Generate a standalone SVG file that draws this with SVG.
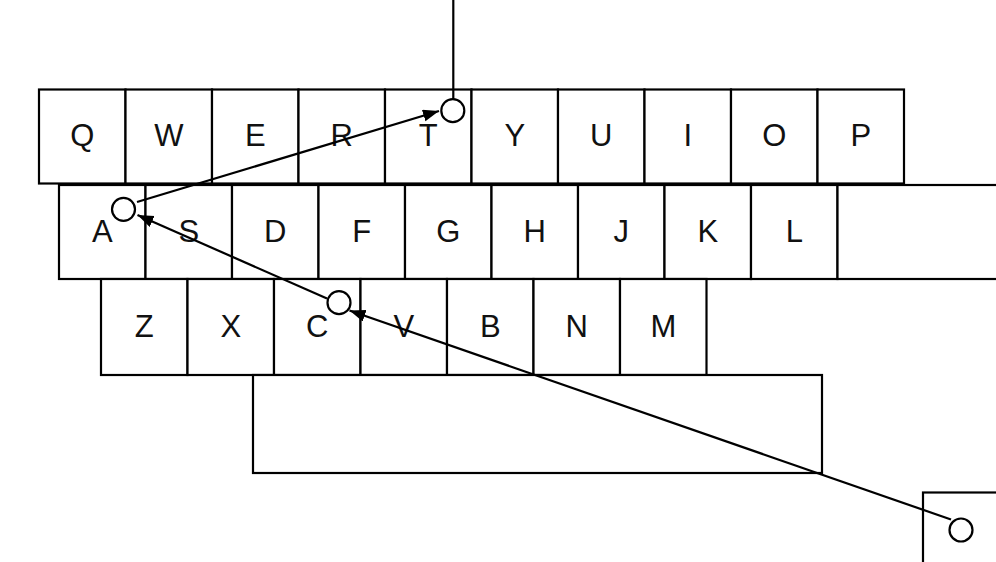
<svg xmlns="http://www.w3.org/2000/svg" width="996" height="562" viewBox="0 0 996 562">
<style>
.key{fill:#fff;stroke:#000;stroke-width:2.2}
.lbl{font-family:"Liberation Sans",Arial,sans-serif;font-size:31px;fill:#111;text-anchor:middle}
.pt{fill:#fff;stroke:#000;stroke-width:2.2}
.cn{stroke:#000;stroke-width:2.2;fill:none}
</style>
<defs>
<marker id="ah" markerUnits="userSpaceOnUse" markerWidth="17" markerHeight="13" refX="16" refY="6" orient="auto">
<path d="M0,0 L16,6 L0,12 Z" fill="#000"/>
</marker>
</defs>
<rect width="996" height="562" fill="#fff"/>
<g id="row1">
<g id="key-Q"><rect class="key" x="39" y="89.5" width="86.5" height="94"/><text class="lbl" x="82.3" y="145.5">Q</text></g>
<g id="key-W"><rect class="key" x="125.5" y="89.5" width="86.5" height="94"/><text class="lbl" x="168.8" y="145.5">W</text></g>
<g id="key-E"><rect class="key" x="212" y="89.5" width="86.5" height="94"/><text class="lbl" x="255.3" y="145.5">E</text></g>
<g id="key-R"><rect class="key" x="298.5" y="89.5" width="86.5" height="94"/><text class="lbl" x="341.8" y="145.5">R</text></g>
<g id="key-T"><rect class="key" x="385" y="89.5" width="86.5" height="94"/><text class="lbl" x="428.3" y="145.5">T</text></g>
<g id="key-Y"><rect class="key" x="471.5" y="89.5" width="86.5" height="94"/><text class="lbl" x="514.8" y="145.5">Y</text></g>
<g id="key-U"><rect class="key" x="558" y="89.5" width="86.5" height="94"/><text class="lbl" x="601.3" y="145.5">U</text></g>
<g id="key-I"><rect class="key" x="644.5" y="89.5" width="86.5" height="94"/><text class="lbl" x="687.8" y="145.5">I</text></g>
<g id="key-O"><rect class="key" x="731" y="89.5" width="86.5" height="94"/><text class="lbl" x="774.3" y="145.5">O</text></g>
<g id="key-P"><rect class="key" x="817.5" y="89.5" width="86.5" height="94"/><text class="lbl" x="860.8" y="145.5">P</text></g>
</g>
<g id="row2">
<g id="key-A"><rect class="key" x="59" y="185" width="86.5" height="94"/><text class="lbl" x="102.3" y="241.8">A</text></g>
<g id="key-S"><rect class="key" x="145.5" y="185" width="86.5" height="94"/><text class="lbl" x="188.8" y="241.8">S</text></g>
<g id="key-D"><rect class="key" x="232" y="185" width="86.5" height="94"/><text class="lbl" x="275.3" y="241.8">D</text></g>
<g id="key-F"><rect class="key" x="318.5" y="185" width="86.5" height="94"/><text class="lbl" x="361.8" y="241.8">F</text></g>
<g id="key-G"><rect class="key" x="405" y="185" width="86.5" height="94"/><text class="lbl" x="448.3" y="241.8">G</text></g>
<g id="key-H"><rect class="key" x="491.5" y="185" width="86.5" height="94"/><text class="lbl" x="534.8" y="241.8">H</text></g>
<g id="key-J"><rect class="key" x="578" y="185" width="86.5" height="94"/><text class="lbl" x="621.3" y="241.8">J</text></g>
<g id="key-K"><rect class="key" x="664.5" y="185" width="86.5" height="94"/><text class="lbl" x="707.8" y="241.8">K</text></g>
<g id="key-L"><rect class="key" x="751" y="185" width="86.5" height="94"/><text class="lbl" x="794.3" y="241.8">L</text></g>
<g id="key-enter"><rect class="key" x="837.5" y="185" width="170" height="94"/></g>
</g>
<g id="row3">
<g id="key-Z"><rect class="key" x="101" y="279" width="86.5" height="96"/><text class="lbl" x="144.3" y="337">Z</text></g>
<g id="key-X"><rect class="key" x="187.5" y="279" width="86.5" height="96"/><text class="lbl" x="230.8" y="337">X</text></g>
<g id="key-C"><rect class="key" x="274" y="279" width="86.5" height="96"/><text class="lbl" x="317.3" y="337">C</text></g>
<g id="key-V"><rect class="key" x="360.5" y="279" width="86.5" height="96"/><text class="lbl" x="403.8" y="337">V</text></g>
<g id="key-B"><rect class="key" x="447" y="279" width="86.5" height="96"/><text class="lbl" x="490.3" y="337">B</text></g>
<g id="key-N"><rect class="key" x="533.5" y="279" width="86.5" height="96"/><text class="lbl" x="576.8" y="337">N</text></g>
<g id="key-M"><rect class="key" x="620" y="279" width="86.5" height="96"/><text class="lbl" x="663.3" y="337">M</text></g>
</g>
<g id="key-space"><rect class="key" x="253" y="375" width="569" height="98"/></g>
<g id="key-corner"><rect class="key" x="923" y="492.5" width="90" height="90"/></g>
<g id="connectors">
<line class="cn" x1="453.3" y1="0" x2="453.3" y2="99"/>
<line class="cn" x1="137" y1="202" x2="439" y2="111" marker-end="url(#ah)"/>
<line class="cn" x1="327" y1="298.5" x2="137.5" y2="215" marker-end="url(#ah)"/>
<line class="cn" x1="951" y1="519.5" x2="349.5" y2="310.5" marker-end="url(#ah)"/>
</g>
<g id="points">
<circle id="pt-T" class="pt" cx="452.8" cy="110.7" r="11.5"/>
<circle id="pt-A" class="pt" cx="123.5" cy="209.3" r="11.5"/>
<circle id="pt-C" class="pt" cx="339" cy="302.7" r="11.5"/>
<circle id="pt-start" class="pt" cx="961" cy="530" r="11.5"/>
</g>
</svg>
